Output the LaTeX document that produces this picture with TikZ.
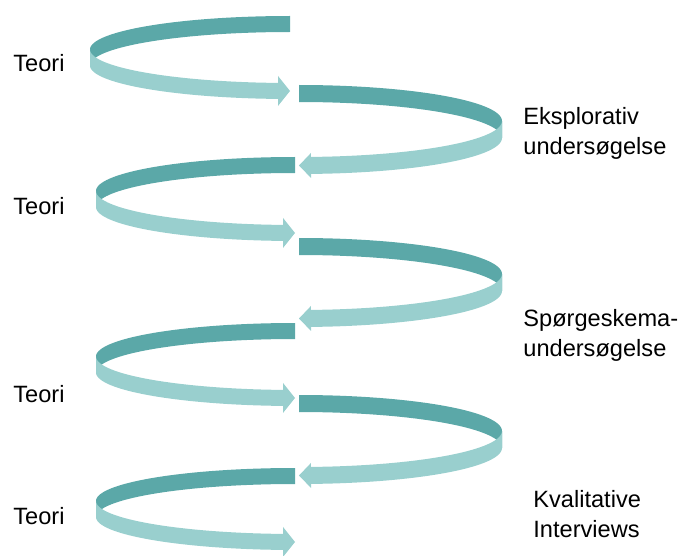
\documentclass[tikz,border=0pt]{standalone}
\usepackage{fontspec}
\setmainfont{Liberation Sans}
\usepackage{tikz}

\definecolor{tealdark}{RGB}{91,168,168}
\definecolor{teallight}{RGB}{153,207,206}

\begin{document}
\begin{tikzpicture}[x=0.5pt,y=-0.5pt,
		back/.style={fill=tealdark},
		front/.style={fill=teallight},
		tekst/.style={anchor=base west,inner sep=0pt,align=left,font=\fontsize{11.8}{15}\selectfont}]
		\useasboundingbox (0,0) rectangle (681,556);
		% left turns
		\foreach \cx/\cy/\a/\b in {290/49.5/200/33.5, 295/191/199/34, 295/356.5/199/33.5, 295/501/199/33}{
			\pgfmathsetmacro\te{acos(-12/\a)}
			\fill[back] plot[domain=270:180,samples=40] ({\cx+\a*cos(\x)},{\cy+\b*sin(\x)})
				-- plot[domain=180:270,samples=40] ({\cx+\a*cos(\x)},{\cy+\b*sin(\x)+16}) -- cycle;
			\fill[front] plot[domain=180:\te,samples=40] ({\cx+\a*cos(\x)},{\cy+\b*sin(\x)})
				-- ++(0,-7) -- (\cx,{\cy+\b+8}) -- ({\cx-12},{\cy+\b*sin(\te)+23}) -- ++(0,-7)
				-- plot[domain=\te:180,samples=40] ({\cx+\a*cos(\x)},{\cy+\b*sin(\x)+16}) -- cycle;
		}
		% right turns
		\foreach \cy in {121, 274, 431}{
			\pgfmathsetmacro\te{acos(12/203)}
			\fill[back] plot[domain=270:360,samples=40] ({299+203*cos(\x)},{\cy+36*sin(\x)})
				-- plot[domain=360:270,samples=40] ({299+203*cos(\x)},{\cy+36*sin(\x)+17}) -- cycle;
			\fill[front] plot[domain=0:\te,samples=40] ({299+203*cos(\x)},{\cy+36*sin(\x)})
				-- ++(0,-4) -- (299,{\cy+36+8.5}) -- (311,{\cy+36*sin(\te)+21}) -- ++(0,-4)
				-- plot[domain=\te:0,samples=40] ({299+203*cos(\x)},{\cy+36*sin(\x)+17}) -- cycle;
		}
		\node[tekst] (teori1) at (13,72) {Teori};
		\node[tekst] (teori2) at (13,214) {Teori};
		\node[tekst] (teori3) at (13,402) {Teori};
		\node[tekst] (teori4) at (13,524) {Teori};
		\node[tekst] (eksplorativ) at (523,155) {Eksplorativ\\undersøgelse};
		\node[tekst] (spoergeskema) at (523,357) {Spørgeskema-\\undersøgelse};
		\node[tekst] (interviews) at (533,537) {Kvalitative\\Interviews};
\end{tikzpicture}
\end{document}
